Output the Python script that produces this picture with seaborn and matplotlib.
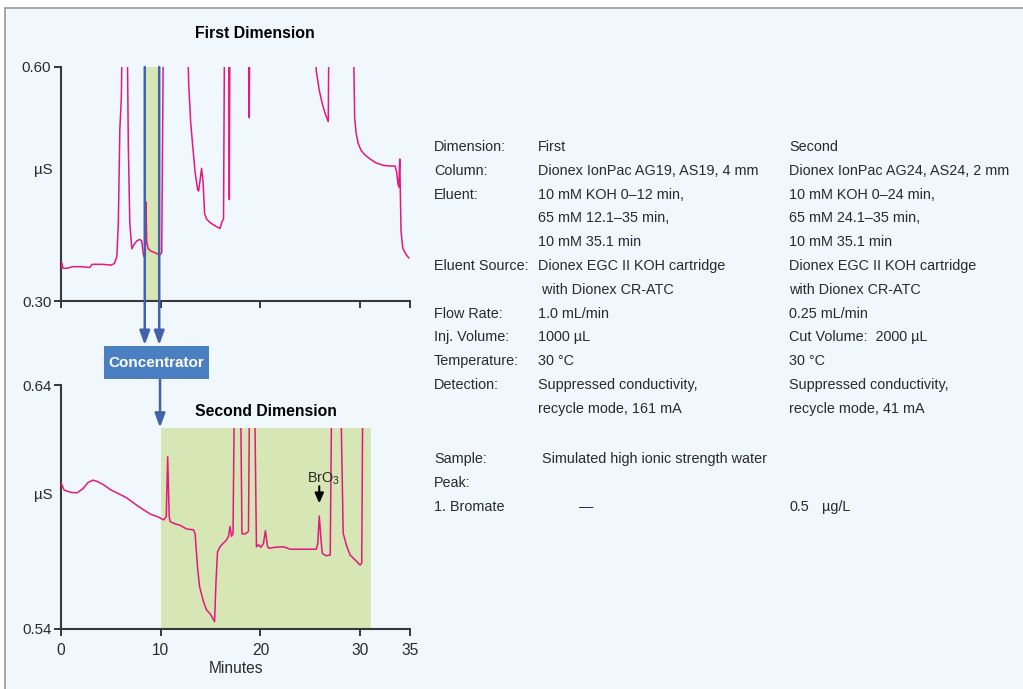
import matplotlib
matplotlib.use("Agg")
import numpy as np
import pandas as pd
import seaborn as sns
import matplotlib.pyplot as plt
from matplotlib.patches import Rectangle
from matplotlib.lines import Line2D
from matplotlib.transforms import blended_transform_factory

# ---------------- data ----------------
# First dimension chromatogram (minutes, µS); values > 0.60 are off-scale peaks
top_time = [0.0, 0.08, 0.2, 0.6, 1.2, 2.0, 2.9, 3.1, 3.5, 4.2,
            5.0, 5.35, 5.6, 5.75, 5.9, 6.05, 6.2, 6.6, 6.75, 6.9,
            7.1, 7.3, 7.6, 7.9, 8.1, 8.2, 8.3, 8.45, 8.52, 8.6,
            8.75, 9.0, 9.4, 9.9, 10.1, 10.3, 12.6, 12.8, 13.0, 13.2,
            13.45, 13.7, 13.8, 13.95, 14.1, 14.25, 14.4, 14.6, 15.0, 15.5,
            15.95, 16.15, 16.3, 16.42, 16.8, 16.88, 16.95, 18.8, 18.88, 18.95,
            25.4, 25.6, 25.9, 26.2, 26.5, 26.8, 26.9, 29.25, 29.45, 29.6,
            29.8, 30.1, 30.5, 31.0, 31.6, 32.3, 33.0, 33.5, 33.65, 33.8,
            33.88, 33.97, 34.1, 34.27, 34.5, 34.7, 34.9]
top_signal = [0.342, 0.349, 0.342, 0.342, 0.344, 0.344, 0.343, 0.347, 0.347, 0.347,
              0.346, 0.348, 0.357, 0.400, 0.520, 0.560, 0.700, 0.700, 0.500, 0.400,
              0.367, 0.372, 0.377, 0.379, 0.377, 0.365, 0.357, 0.357, 0.427, 0.375,
              0.367, 0.364, 0.362, 0.359, 0.362, 0.700, 0.700, 0.580, 0.530, 0.500,
              0.465, 0.443, 0.441, 0.455, 0.470, 0.452, 0.412, 0.405, 0.400, 0.396,
              0.393, 0.402, 0.405, 0.700, 0.700, 0.430, 0.700, 0.700, 0.535, 0.700,
              0.700, 0.595, 0.570, 0.553, 0.540, 0.530, 0.700, 0.700, 0.535, 0.515,
              0.502, 0.493, 0.487, 0.482, 0.477, 0.474, 0.473, 0.473, 0.466, 0.450,
              0.446, 0.482, 0.390, 0.368, 0.362, 0.358, 0.355]

# Second dimension chromatogram (minutes, µS); values above the window are off-scale
bot_time = [0.0, 0.3, 0.6, 1.0, 1.6, 2.2, 2.7, 3.2, 3.6, 4.2,
            5.0, 6.0, 6.6, 7.5, 8.3, 9.0, 9.7, 10.3, 10.55, 10.7,
            10.85, 10.95, 11.5, 11.9, 12.6, 13.3, 13.45, 13.7, 13.9, 14.3,
            14.6, 15.0, 15.4, 15.55, 15.7, 16.0, 16.6, 16.8, 16.95, 17.1,
            17.25, 17.45, 17.95, 18.15, 18.5, 18.8, 18.95, 19.35, 19.6, 19.8,
            20.05, 20.3, 20.5, 20.7, 20.85, 21.5, 22.3, 23.0, 24.0, 25.0,
            25.6, 25.75, 25.9, 26.05, 26.2, 26.6, 27.0, 27.2, 27.95, 28.3,
            28.65, 29.0, 29.5, 30.0, 30.16, 30.3]
bot_signal = [0.6000, 0.5970, 0.5965, 0.5960, 0.5958, 0.5975, 0.6000, 0.6010, 0.6005, 0.5993,
              0.5970, 0.5950, 0.5937, 0.5910, 0.5888, 0.5870, 0.5860, 0.5847, 0.5860, 0.6106,
              0.5860, 0.5840, 0.5830, 0.5826, 0.5810, 0.5806, 0.5790, 0.5650, 0.5573, 0.5510,
              0.5478, 0.5460, 0.5430, 0.5600, 0.5717, 0.5740, 0.5765, 0.5780, 0.5820, 0.5780,
              0.5790, 0.6600, 0.6600, 0.5790, 0.5790, 0.5800, 0.6600, 0.6600, 0.5737, 0.5745,
              0.5735, 0.5750, 0.5803, 0.5740, 0.5731, 0.5735, 0.5737, 0.5727, 0.5727, 0.5727,
              0.5727, 0.5750, 0.5863, 0.5780, 0.5710, 0.5700, 0.5703, 0.6600, 0.6600, 0.5792,
              0.5740, 0.5703, 0.5683, 0.5662, 0.5670, 0.6600]

cut_start, cut_end = 8.4, 9.85          # heart-cut window (min)
second_start, second_end = 10.0, 31.1   # second-dimension window (min)
second_top = 0.6225                     # top of second-dimension window (µS)
bromate_time, bromate_signal = 25.9, 0.5863

x_ticks = [0, 10, 20, 30, 35]
top_yticks = [0.30, 0.60]
bot_yticks = [0.54, 0.64]

row_labels = ["Dimension:", "Column:", "Eluent:", "", "", "Eluent Source:", "",
              "Flow Rate:", "Inj. Volume:", "Temperature:", "Detection:", ""]
first_col = ["First", "Dionex IonPac AG19, AS19, 4 mm", "10 mM KOH 0\u201312 min,",
             "65 mM 12.1\u201335 min,", "10 mM 35.1 min", "Dionex EGC II KOH cartridge",
             " with Dionex CR-ATC", "1.0 mL/min", "1000 \u00b5L", "30 \u00b0C",
             "Suppressed conductivity,", "recycle mode, 161 mA"]
second_col = ["Second", "Dionex IonPac AG24, AS24, 2 mm", "10 mM KOH 0\u201324 min,",
              "65 mM 24.1\u201335 min,", "10 mM 35.1 min", "Dionex EGC II KOH cartridge",
              "with Dionex CR-ATC", "0.25 mL/min", "Cut Volume:  2000 \u00b5L", "30 \u00b0C",
              "Suppressed conductivity,", "recycle mode, 41 mA"]

assert len(top_time) == len(top_signal)
assert len(bot_time) == len(bot_signal)

# ---------------- style ----------------
sns.set_theme(style="ticks")
plt.rcParams["font.family"] = ["Liberation Sans", "DejaVu Sans"]
plt.rcParams["mathtext.fontset"] = "custom"
plt.rcParams["mathtext.rm"] = "Liberation Sans"

BG = "#F0F8FE"
TRACE = "#E5187F"
GREEN = "#D6E6B4"
BLUE = "#4362AE"
BOX = "#4A80C2"
AX = "#383838"
TXT = "#2a2a2a"
FS = 10.4

W, H = 1023, 689
fig = plt.figure(figsize=(W / 100, H / 100), dpi=100, facecolor="white")


def fx(px):
    return px / W


def fy(py):
    return 1 - py / H


fig.patches.append(Rectangle((fx(4.5), 0), 1 - fx(4.5), fy(7.5), transform=fig.transFigure,
                             facecolor=BG, edgecolor="none", zorder=-10))
fig.add_artist(Line2D([fx(4.5), fx(4.5)], [0, fy(7.5)], color="#a0a0a0", lw=1.3,
                      transform=fig.transFigure, zorder=-5))
fig.add_artist(Line2D([fx(4.5), 1], [fy(7.5), fy(7.5)], color="#a0a0a0", lw=1.3,
                      transform=fig.transFigure, zorder=-5))

ax1 = fig.add_axes([fx(61), fy(301), fx(410) - fx(61), fy(67) - fy(301)])
ax2 = fig.add_axes([fx(61), fy(629), fx(410) - fx(61), fy(385) - fy(629)])

for ax in (ax1, ax2):
    ax.set_facecolor("none")
    for s in ("top", "right"):
        ax.spines[s].set_visible(False)
    for s in ("left", "bottom"):
        ax.spines[s].set_color(AX)
        ax.spines[s].set_linewidth(1.5)
    ax.tick_params(direction="out", length=5, width=1.4, color=AX, labelcolor=TXT,
                   labelsize=FS)
    ax.tick_params(axis="y", pad=2, labelsize=10.8)
    ax.tick_params(axis="x", pad=5, labelsize=11.2)
    ax.set_xlim(0, 35)
    ax.set_xticks(x_ticks)

# ---- first dimension ----
ax1.set_ylim(0.30, 0.60)
ax1.set_yticks(top_yticks)
ax1.set_yticklabels([f"{v:.2f}" for v in top_yticks])
ax1.set_xticklabels([])
ax1.axvspan(cut_start, cut_end, color=GREEN, zorder=0, lw=0)
df1 = pd.DataFrame({"t": top_time, "s": top_signal})
sns.lineplot(data=df1, x="t", y="s", ax=ax1, color=TRACE, lw=1.1, estimator=None,
             sort=False, zorder=3)
ax1.set_xlabel("")
ax1.set_ylabel("")
tr1 = blended_transform_factory(ax1.transAxes, ax1.transData)
ax1.text(-0.023, 0.468, "\u00b5S", transform=tr1, ha="right", va="center",
         fontsize=10.8, color=TXT)

for xc in (cut_start, cut_end):
    ax1.annotate("", xy=(xc, fy(345)), xycoords=("data", "figure fraction"),
                 xytext=(xc, fy(67)), textcoords=("data", "figure fraction"),
                 arrowprops=dict(arrowstyle="-|>,head_length=0.6,head_width=0.22",
                                 color=BLUE, lw=1.8, mutation_scale=14,
                                 shrinkA=0, shrinkB=0),
                 annotation_clip=False, zorder=6)

# ---- concentrator ----
fig.patches.append(Rectangle((fx(104), fy(379)), fx(209) - fx(104), fy(346) - fy(379),
                             transform=fig.transFigure, facecolor=BOX, edgecolor="none",
                             zorder=5))
fig.text(fx(156.5), fy(362.5), "Concentrator", color="white", ha="center", va="center",
         fontsize=11.0, fontweight="bold", zorder=6)

# ---- second dimension ----
ax2.set_ylim(0.54, 0.64)
ax2.set_yticks(bot_yticks)
ax2.set_yticklabels([f"{v:.2f}" for v in bot_yticks])
ax2.set_xticklabels([str(v) for v in x_ticks])
ax2.add_patch(Rectangle((second_start, 0.54), second_end - second_start, second_top - 0.54,
                        facecolor=GREEN, edgecolor="none", zorder=0))
df2 = pd.DataFrame({"t": bot_time, "s": bot_signal})
sns.lineplot(data=df2, x="t", y="s", ax=ax2, color=TRACE, lw=1.1, estimator=None,
             sort=False, zorder=3)
clip = Rectangle((0, 0.54), 35, second_top - 0.54, transform=ax2.transData)
ax2.lines[-1].set_clip_path(clip)
ax2.set_ylabel("")
ax2.set_xlabel("Minutes", fontsize=11.2, color=TXT, labelpad=2.5)
tr2 = blended_transform_factory(ax2.transAxes, ax2.transData)
ax2.text(-0.023, 0.595, "\u00b5S", transform=tr2, ha="right", va="center",
         fontsize=10.8, color=TXT)

ax2.annotate("", xy=(9.93, second_top), xycoords="data",
             xytext=(9.93, fy(379)), textcoords=("data", "figure fraction"),
             arrowprops=dict(arrowstyle="-|>,head_length=0.6,head_width=0.22",
                             color=BLUE, lw=1.8, mutation_scale=14, shrinkA=0, shrinkB=0),
             annotation_clip=False, zorder=6)

ax2.annotate("", xy=(bromate_time, 0.5915), xytext=(bromate_time, 0.5985),
             arrowprops=dict(arrowstyle="-|>,head_length=0.5,head_width=0.22",
                             color="black", lw=1.5, mutation_scale=12, shrinkA=0, shrinkB=0))
ax2.text(24.65, 0.600, r"BrO$_\mathregular{3}$", ha="left", va="baseline",
         fontsize=FS, color=TXT)

# ---- titles ----
fig.text(fx(255), fy(33), "First Dimension", ha="center", va="center", fontsize=11.4,
         fontweight="bold", color="black")
fig.text(fx(265.5), fy(411), "Second Dimension", ha="center", va="center", fontsize=11.3,
         fontweight="bold", color="black")

# ---- conditions text ----
row0, step = 146.0, 23.8
for i, (a, b, c) in enumerate(zip(row_labels, first_col, second_col)):
    yb = fy(row0 + step * i + 5)
    if a:
        fig.text(fx(434), yb, a, ha="left", va="baseline", fontsize=FS, color=TXT)
    fig.text(fx(538), yb, b, ha="left", va="baseline", fontsize=FS, color=TXT)
    fig.text(fx(789), yb, c, ha="left", va="baseline", fontsize=FS, color=TXT)

fig.text(fx(434), fy(458 + 5), "Sample:", ha="left", va="baseline", fontsize=FS, color=TXT)
fig.text(fx(542), fy(458 + 5), "Simulated high ionic strength water", ha="left",
         va="baseline", fontsize=FS, color=TXT)
fig.text(fx(434), fy(482 + 5), "Peak:", ha="left", va="baseline", fontsize=FS, color=TXT)
fig.text(fx(434), fy(506 + 5), "1. Bromate", ha="left", va="baseline", fontsize=FS, color=TXT)
fig.text(fx(579), fy(506 + 5), "\u2014", ha="left", va="baseline", fontsize=FS, color=TXT)
fig.text(fx(789), fy(506 + 5), "0.5", ha="left", va="baseline", fontsize=FS, color=TXT)
fig.text(fx(822), fy(506 + 5), "\u00b5g/L", ha="left", va="baseline", fontsize=FS, color=TXT)

fig.savefig("out.png", dpi=100, facecolor="white")
